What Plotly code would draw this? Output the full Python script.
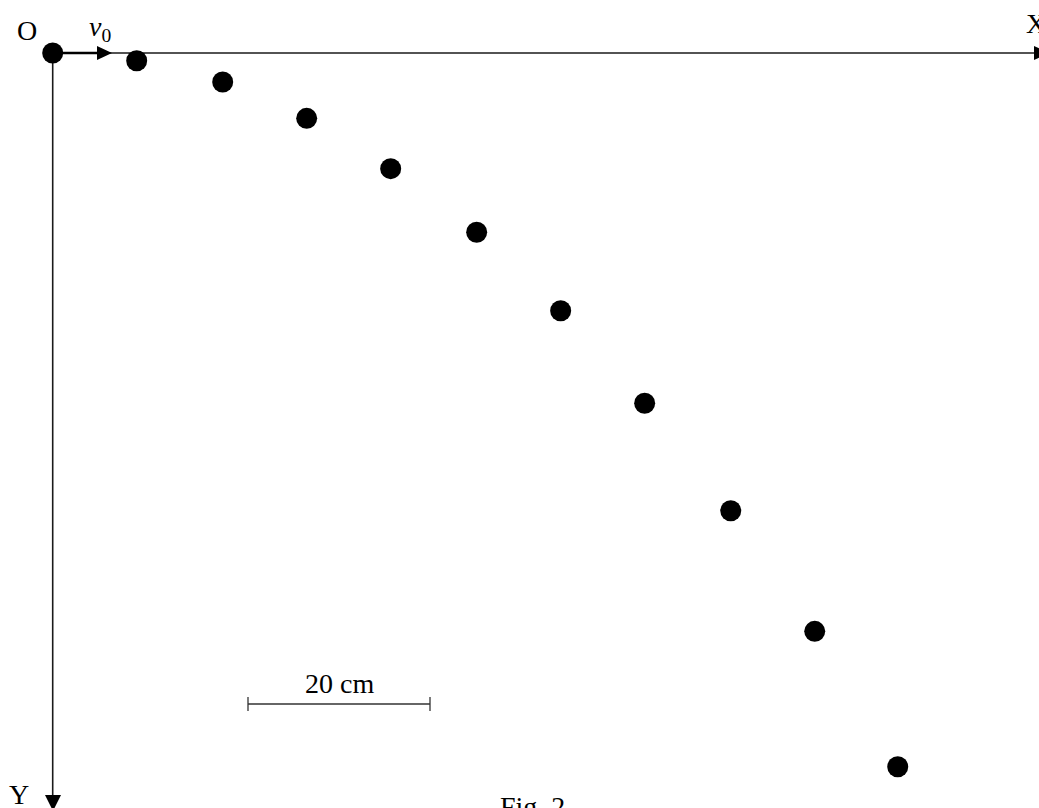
import plotly.graph_objects as go

# ---- data (cm, x to the right, y downward from O) ----
x_cm = [9.23, 18.68, 27.91, 37.14, 46.59, 55.82, 65.05, 74.51, 83.74, 92.86]
y_cm = [0.85, 3.19, 7.18, 12.71, 19.70, 28.32, 38.49, 50.30, 63.55, 78.43]
scale_len_cm = [20]
scale_label = ["20 cm"]

# ---- geometry helpers (pixels -> cm) ----
W, H = 1039, 808
PPC = 9.1            # pixels per cm
OX, OY = 52.7, 53.0  # origin in pixels


def cx(px):
    return (px - OX) / PPC


def cy(py):
    return (py - OY) / PPC


def tri(points):
    return "M " + " L ".join(f"{cx(a):.4f},{cy(b):.4f}" for a, b in points) + " Z"


FONT = "Liberation Serif, Times New Roman, serif"
LC = "#1a1a1a"

fig = go.Figure()

# origin dot
fig.add_trace(go.Scatter(x=[0], y=[0], mode="markers",
                         marker=dict(size=21, color="black"), hoverinfo="skip"))
# trajectory dots
fig.add_trace(go.Scatter(x=x_cm, y=y_cm, mode="markers",
                         marker=dict(size=21, color="black"), hoverinfo="skip"))

shapes = []
# X axis
shapes.append(dict(type="line", x0=0, y0=0, x1=cx(1036), y1=0,
                   line=dict(color=LC, width=1.6), layer="below"))
shapes.append(dict(type="path", path=tri([(1034, 46), (1049, 53), (1034, 60)]),
                   fillcolor="black", line=dict(width=0)))
# Y axis
shapes.append(dict(type="line", x0=0, y0=0, x1=0, y1=cy(797),
                   line=dict(color=LC, width=1.6), layer="below"))
shapes.append(dict(type="path", path=tri([(45, 795), (53, 811), (61, 795)]),
                   fillcolor="black", line=dict(width=0)))
# v0 arrow
shapes.append(dict(type="line", x0=0, y0=0, x1=cx(99), y1=0,
                   line=dict(color="black", width=2.6)))
shapes.append(dict(type="path", path=tri([(97, 46), (112, 53), (97, 60)]),
                   fillcolor="black", line=dict(width=0)))
# scale bar
sb_x0 = cx(248)
sb_x1 = sb_x0 + scale_len_cm[0]
sb_y = cy(704)
shapes.append(dict(type="line", x0=sb_x0, y0=sb_y, x1=sb_x1, y1=sb_y,
                   line=dict(color="#333", width=1.3)))
for xx in (sb_x0, sb_x1):
    shapes.append(dict(type="line", x0=xx, y0=cy(697), x1=xx, y1=cy(711),
                       line=dict(color="#333", width=1.3)))

ann = [
    dict(x=cx(27), y=cy(30), text="O"),
    dict(x=cx(100), y=cy(28), text="<i>v</i><sub>0</sub>"),
    dict(x=cx(1036), y=cy(23), text="X"),
    dict(x=cx(18.5), y=cy(794), text="Y"),
    dict(x=(sb_x0 + sb_x1) / 2, y=cy(683), text=scale_label[0]),
    dict(x=cx(532), y=cy(806), text="Fig. 2"),
]
for a in ann:
    a.update(xref="x", yref="y", showarrow=False,
             font=dict(family=FONT, size=28, color="black"))

fig.update_layout(
    width=W, height=H, autosize=False,
    margin=dict(l=0, r=0, t=0, b=0),
    paper_bgcolor="white", plot_bgcolor="white",
    showlegend=False, hovermode=False,
    shapes=shapes, annotations=ann,
    xaxis=dict(range=[cx(0), cx(W)], visible=False, fixedrange=True),
    yaxis=dict(range=[cy(H), cy(0)], visible=False, fixedrange=True),
)

fig.write_html("out.html",
               config=dict(displayModeBar=False, staticPlot=True),
               post_script="document.body.style.margin='0';document.body.style.overflow='hidden';")
